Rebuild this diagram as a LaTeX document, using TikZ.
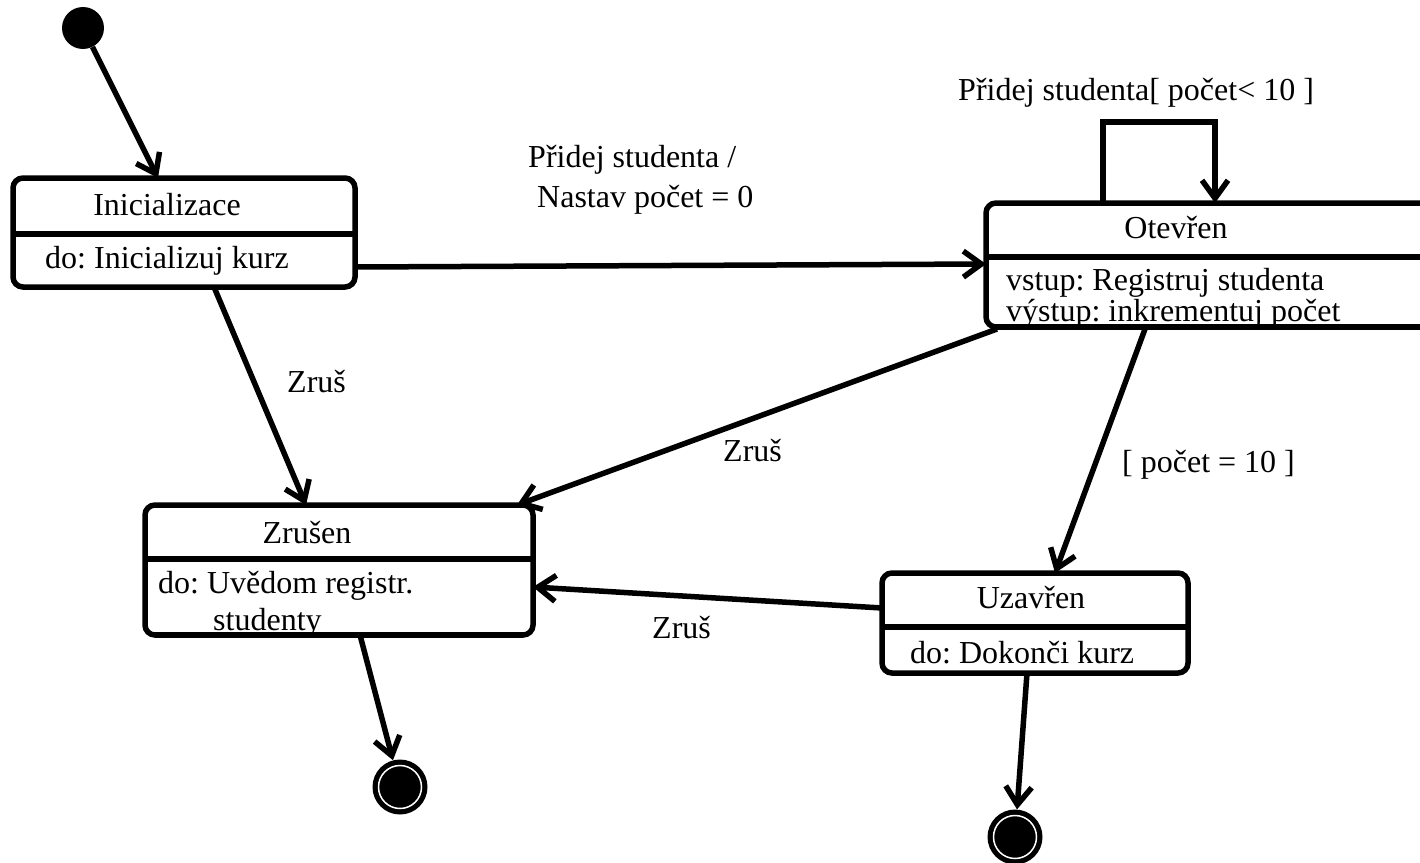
\documentclass[tikz,border=0pt]{standalone}
\usepackage{fontspec}
\setmainfont{Liberation Serif}
\usetikzlibrary{arrows.meta,calc}
\frenchspacing
\begin{document}
\begin{tikzpicture}[x=1pt,y=-1pt,
  txt/.style={font=\fontsize{32}{38}\selectfont\frenchspacing, inner sep=0pt, anchor=base west},
  ctxt/.style={font=\fontsize{32}{38}\selectfont\frenchspacing, inner sep=0pt, anchor=base},
  statebox/.style={draw, line width=5.5pt, rounded corners=10pt, anchor=north west, inner sep=0pt, outer sep=0pt},
  divider/.style={line width=5.5pt},
  trans/.style={line width=5.5pt, -{Straight Barb[length=18pt,width=26pt,line width=5.5pt]}},
  startst/.style={circle, fill=black, minimum size=42pt, inner sep=0pt},
  endst/.style={circle, fill=black, minimum size=55pt, inner sep=0pt, path picture={\draw[white, line width=1.5pt] (path picture bounding box.center) circle (21.5pt);}}
]
\useasboundingbox (0,0) rectangle (1420,862);
\clip (0,0) rectangle (1420,862);

% states
\node[statebox, minimum width=342pt, minimum height=109pt] (init) at (13,178) {};
\draw[divider] ($(init.north west)+(0,56)$) -- ($(init.north east)+(0,56)$);
\node[ctxt] (initT) at (167,215) {Inicializace};
\node[txt] (initD) at (45,268) {do: Inicializuj kurz};

\node[statebox, minimum width=470pt, minimum height=124pt] (open) at (986,203) {};
\draw[divider] ($(open.north west)+(0,54)$) -- ($(open.north east)+(0,54)$);
\node[ctxt] (openT) at (1176,238) {Otevřen};
\node[txt] (openD1) at (1006,290) {vstup: Registruj studenta};
\node[txt] (openD2) at (1006,321) {výstup: inkrementuj počet};
\draw[line width=5.5pt] ($(open.south west)+(10,0)$) -- ($(open.south east)$);

\node[statebox, minimum width=388pt, minimum height=130pt] (zr) at (145,505) {};
\draw[divider] ($(zr.north west)+(0,54)$) -- ($(zr.north east)+(0,54)$);
\node[ctxt] (zrT) at (307,543) {Zrušen};
\node[txt] (zrD1) at (158,593) {do: Uvědom registr.};
\node[txt] (zrD2) at (213,630) {studenty};
\draw[line width=5.5pt] ($(zr.south west)+(10,0)$) -- ($(zr.south east)+(-10,0)$);

\node[statebox, minimum width=306pt, minimum height=100pt] (uz) at (882,573) {};
\draw[divider] ($(uz.north west)+(0,54)$) -- ($(uz.north east)+(0,54)$);
\node[ctxt] (uzT) at (1031,608) {Uzavřen};
\node[txt] (uzD) at (910,663) {do: Dokonči kurz};

\node[startst] (start) at (83,28) {};
\node[endst] (end1) at (400,787) {};
\node[endst] (end2) at (1015,837) {};

% transitions
\draw[trans] (start) -- ($(init.north west)+(145,0)$);
\draw[trans] ($(init.north east)+(0,89)$) -- ($(open.north west)+(0,61)$);
\draw[trans] ($(init.south west)+(201,0)$) -- ($(zr.north west)+(161,0)$);
\draw[trans] ($(open.south west)+(11,2)$) -- ($(zr.north east)+(-16,0)$);
\draw[trans] ($(open.south west)+(159,2)$) -- ($(uz.north west)+(173,0)$);
\draw[trans] ($(uz.north west)+(0,35)$) -- ($(zr.north east)+(0,82)$);
\draw[trans] ($(zr.south west)+(215,0)$) -- (end1);
\draw[trans] ($(uz.south west)+(145,0)$) -- (end2);
\draw[trans] ($(open.north west)+(117,0)$) -- ++(0,-81) -| ($(open.north west)+(229,0)$);

% labels
\node[txt] (l1) at (958,100) {Přidej studenta[ počet< 10 ]};
\node[txt] (l2) at (528,167) {Přidej studenta /};
\node[txt] (l3) at (537,207) {Nastav počet = 0};
\node[txt] (l4) at (287,392) {Zruš};
\node[txt] (l5) at (723,461) {Zruš};
\node[txt] (l6) at (1122,472) {[ počet = 10 ]};
\node[txt] (l7) at (652,638) {Zruš};
\end{tikzpicture}
\end{document}
